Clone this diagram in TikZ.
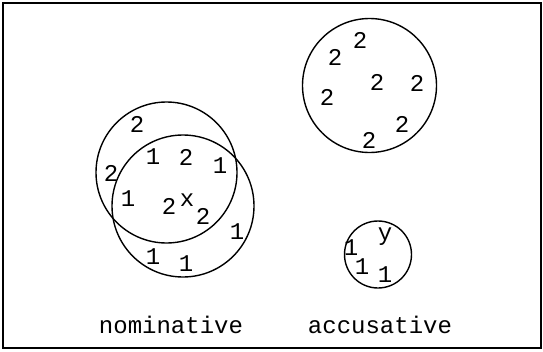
\documentclass[tikz,border=0pt]{standalone}
\usepackage{fontspec}
\setmonofont{Liberation Mono}
\begin{document}
\begin{tikzpicture}[x=1pt,y=-1pt,
  lab/.style={font=\ttfamily\fontsize{24}{24}\selectfont, inner sep=0pt},
  setc/.style={draw, line width=1.4pt, circle, inner sep=0pt}]
\useasboundingbox (0,0) rectangle (543,351);
\draw[line width=1.8pt] (3,3) rectangle (541,348);
% circles
\node[setc, minimum size=141pt] (n1) at (166.5,172.5) {};
\node[setc, minimum size=142pt] (n2) at (183,206) {};
\node[setc, minimum size=134pt] (a1) at (369.5,85.5) {};
\node[setc, minimum size=67pt] (a2) at (378,254.5) {};
% nominative elements
\node[lab] (t1) at (137,124) {2};
\node[lab] (t2) at (111,173) {2};
\node[lab] (t3) at (153,157) {1};
\node[lab] (t4) at (186,157) {2};
\node[lab] (t5) at (220,166) {1};
\node[lab] (t6) at (128,199) {1};
\node[lab] (t7) at (169,206) {2};
\node[lab] (tx) at (187,200) {x};
\node[lab] (t8) at (203,216) {2};
\node[lab] (t9) at (237,232) {1};
\node[lab] (t10) at (153,257) {1};
\node[lab] (t11) at (186,264) {1};
% accusative elements
\node[lab] (u1) at (360,40) {2};
\node[lab] (u2) at (335,57) {2};
\node[lab] (u3) at (377,82) {2};
\node[lab] (u4) at (417,83) {2};
\node[lab] (u5) at (327,97) {2};
\node[lab] (u6) at (402,124) {2};
\node[lab] (u7) at (369,140) {2};
\node[lab] (uy) at (385,237) {y};
\node[lab] (v1) at (351,248) {1};
\node[lab] (v2) at (362,267) {1};
\node[lab] (v3) at (385,275) {1};
% labels
\node[lab] (nom) at (171,325) {nominative};
\node[lab] (acc) at (380,325) {accusative};
\end{tikzpicture}
\end{document}
